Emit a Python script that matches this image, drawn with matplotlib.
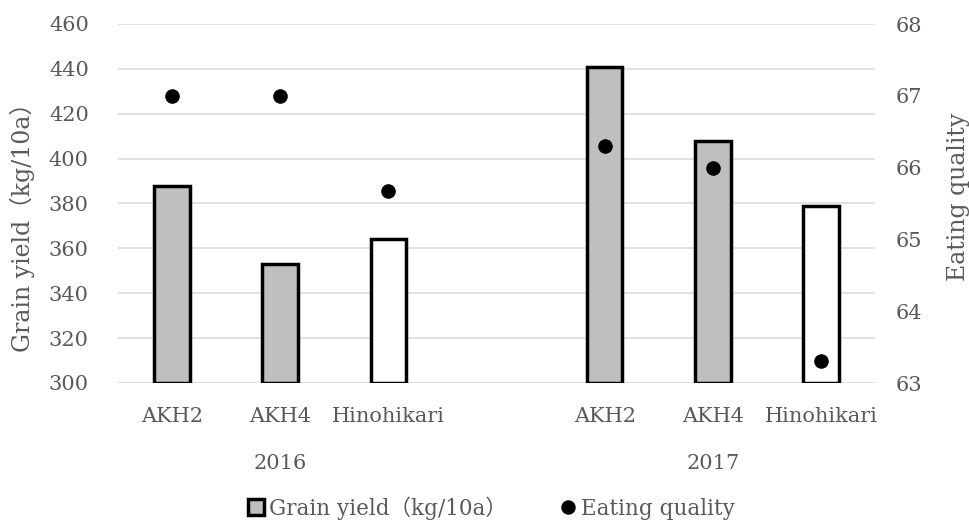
import numpy as np
import matplotlib
matplotlib.use("Agg")
import matplotlib.pyplot as plt
from matplotlib.patches import Patch
from matplotlib.lines import Line2D

# ---- data ----
years = ["2016", "2017"]
varieties = ["AKH2", "AKH4", "Hinohikari"]
grain_yield = [[388, 353, 364], [441, 408, 379]]      # kg/10a
eating_quality = [[67.0, 67.0, 65.67], [66.3, 66.0, 63.3]]
bar_fill = ["#bfbfbf", "#bfbfbf", "#ffffff"]

TXT = "#595959"
GRID = "#d9d9d9"
FONT = ["DejaVu Serif", "Noto Sans CJK JP"]

plt.rcParams.update({
    "font.family": FONT,
    "font.size": 15,
    "text.color": TXT,
    "xtick.color": TXT,
    "ytick.color": TXT,
})

fig = plt.figure(figsize=(9.7, 5.22), dpi=100)
ax = fig.add_axes([118 / 970, 1 - 383 / 522, (875 - 118) / 970, (383 - 24) / 522])
ax2 = ax.twinx()

# positions: three slots per year with one empty slot between years
pos = []
labels = []
for gi, yr in enumerate(years):
    for vi, v in enumerate(varieties):
        pos.append(gi * 4 + vi)
        labels.append(v)

ys = [v for grp in grain_yield for v in grp]
eq = [v for grp in eating_quality for v in grp]
fills = bar_fill * len(years)

ax.bar(pos, np.array(ys) - 300, bottom=300, width=0.33, color=fills,
       edgecolor="black", linewidth=2.5, zorder=3)
ax2.scatter(pos, eq, s=90, color="black", zorder=4)

ax.set_xlim(-0.5, 6.5)
ax.set_ylim(300, 460)
ax.set_yticks(np.arange(300, 461, 20))
ax2.set_ylim(63, 68)
ax2.set_yticks(np.arange(63, 69, 1))

ax.grid(axis="y", color=GRID, linewidth=1.1, zorder=0)
ax.set_axisbelow(True)
for a in (ax, ax2):
    for s in a.spines.values():
        s.set_visible(False)
    a.tick_params(length=0, labelsize=15)
ax.tick_params(axis="y", pad=21)
ax2.tick_params(axis="y", pad=15)

ax.set_xticks(pos)
ax.set_xticklabels(labels)
ax.tick_params(axis="x", pad=17)

for gi, yr in enumerate(years):
    ax.text(gi * 4 + 1, -0.225, yr, transform=ax.get_xaxis_transform(),
            ha="center", va="center", fontsize=15, color=TXT)

ax.set_ylabel("Grain yield（kg/10a）", fontsize=17, color=TXT)
ax.yaxis.set_label_coords(-0.110, 0.45)
ax2.set_ylabel("Eating quality", fontsize=17, color=TXT)
ax2.yaxis.set_label_coords(1.095, 0.52)

handles = [
    Patch(facecolor="#bfbfbf", edgecolor="black", linewidth=2.5),
    Line2D([], [], marker="o", linestyle="none", color="black", markersize=9.4),
]
fig.legend(handles, ["Grain yield（kg/10a）", "Eating quality"],
           loc="center", bbox_to_anchor=(491.5 / 970, 1 - 508 / 522), ncol=2,
           frameon=False, fontsize=15.5, handlelength=0.75, handleheight=0.75,
           handletextpad=0.2, columnspacing=2.5, labelcolor=TXT)

fig.savefig("out.png", dpi=100, facecolor="white")
